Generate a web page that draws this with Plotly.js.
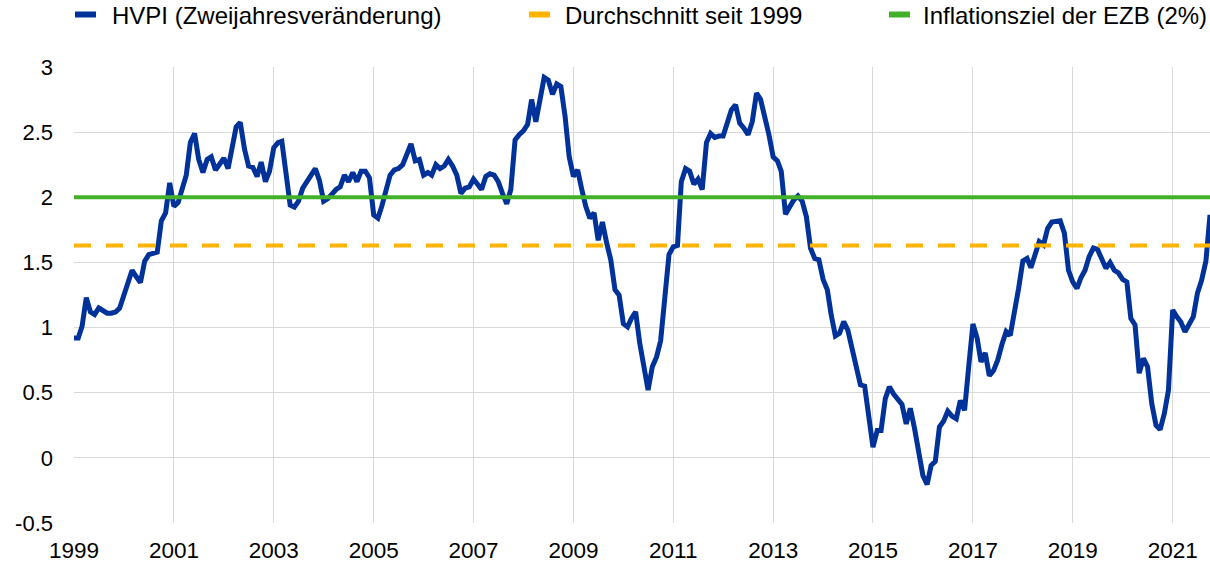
<!DOCTYPE html>
<html>
<head>
<meta charset="utf-8">
<script src="https://cdn.plot.ly/plotly-3.0.1.min.js"></script>
<style>
  html, body { margin: 0; padding: 0; background: #ffffff; }
  #chart { width: 1210px; height: 565px; }
</style>
</head>
<body>
<div id="chart"></div>
<script>
// ---- Data (monthly, starting January 1999) ----
const startYear = 1999;
const hvpiTwoYearChange = [
  // 1999
  0.92, 0.92, 1.01, 1.23, 1.12, 1.10, 1.15, 1.13, 1.11, 1.11, 1.12, 1.15,
  // 2000
  1.25, 1.32, 1.44, 1.39, 1.345, 1.51, 1.56, 1.57, 1.58, 1.82, 1.88, 2.11,
  // 2001
  1.93, 1.96, 2.06, 2.17, 2.42, 2.49, 2.29, 2.19, 2.29, 2.31, 2.21, 2.26,
  // 2002
  2.30, 2.22, 2.38, 2.54, 2.575, 2.37, 2.24, 2.23, 2.16, 2.27, 2.12, 2.20,
  // 2003
  2.38, 2.42, 2.43, 2.21, 1.94, 1.925, 1.97, 2.07, 2.12, 2.16, 2.22, 2.13,
  // 2004
  1.97, 1.99, 2.03, 2.06, 2.08, 2.17, 2.12, 2.19, 2.12, 2.20, 2.20, 2.15,
  // 2005
  1.865, 1.84, 1.93, 2.06, 2.17, 2.21, 2.22, 2.25, 2.33, 2.41, 2.28, 2.29,
  // 2006
  2.17, 2.19, 2.17, 2.25, 2.22, 2.24, 2.29, 2.24, 2.17, 2.03, 2.07, 2.08,
  // 2007
  2.14, 2.10, 2.06, 2.16, 2.18, 2.17, 2.12, 2.03, 1.95, 2.06, 2.44, 2.48,
  // 2008
  2.51, 2.56, 2.75, 2.58, 2.775, 2.92, 2.90, 2.79, 2.87, 2.85, 2.62, 2.31,
  // 2009
  2.16, 2.21, 2.07, 1.93, 1.84, 1.88, 1.67, 1.81, 1.65, 1.52, 1.29, 1.25,
  // 2010
  1.03, 1.006, 1.07, 1.12, 0.88, 0.70, 0.52, 0.70, 0.775, 0.90, 1.20, 1.56,
  // 2011
  1.62, 1.63, 2.12, 2.22, 2.20, 2.10, 2.14, 2.06, 2.42, 2.49, 2.46, 2.47,
  // 2012
  2.47, 2.58, 2.67, 2.71, 2.57, 2.53, 2.48, 2.58, 2.80, 2.75, 2.62, 2.48,
  // 2013
  2.31, 2.28, 2.20, 1.87, 1.925, 1.98, 2.01, 1.97, 1.85, 1.61, 1.53, 1.52,
  // 2014
  1.37, 1.29, 1.10, 0.935, 0.955, 1.045, 0.98, 0.84, 0.70, 0.56, 0.55, 0.31,
  // 2015
  0.083, 0.21, 0.21, 0.455, 0.545, 0.49, 0.455, 0.41, 0.26, 0.38, 0.225, 0.058,
  // 2016
  -0.135, -0.204, -0.058, -0.027, 0.237, 0.283, 0.358, 0.32, 0.30, 0.44, 0.365, 0.70,
  // 2017
  1.027, 0.917, 0.737, 0.806, 0.63, 0.67, 0.75, 0.87, 0.97, 0.94, 1.10, 1.30,
  // 2018
  1.51, 1.53, 1.46, 1.56, 1.66, 1.635, 1.76, 1.81, 1.82, 1.82, 1.725, 1.44,
  // 2019
  1.35, 1.30, 1.38, 1.44, 1.545, 1.61, 1.60, 1.53, 1.455, 1.50, 1.44, 1.42,
  // 2020
  1.37, 1.35, 1.07, 1.02, 0.65, 0.763, 0.70, 0.417, 0.25, 0.217, 0.34, 0.52,
  // 2021
  1.135, 1.083, 1.045, 0.968, 1.02, 1.083, 1.263, 1.365, 1.51, 1.865
];
const averageSince1999 = 1.63;
const ecbTarget = 2.0;
const yTickVals = [-0.5, 0, 0.5, 1, 1.5, 2, 2.5, 3];
const yTickText = ['-0.5', '0', '0.5', '1', '1.5', '2', '2.5', '3'];
const seriesNames = ['HVPI (Zweijahresveränderung)', 'Durchschnitt seit 1999', 'Inflationsziel der EZB (2%)'];
const seriesColors = ['#003299', '#FFB400', '#43B02A'];

// ---- Build dates ----
const dates = hvpiTwoYearChange.map((_, i) => {
  const y = startYear + Math.floor(i / 12);
  const m = (i % 12) + 1;
  return y + '-' + String(m).padStart(2, '0') + '-01';
});
const firstDate = dates[0];
const lastDate = dates[dates.length - 1];

const FONT = 'Liberation Sans, Arial, Helvetica, sans-serif';

const traces = [
  {
    x: dates, y: hvpiTwoYearChange, type: 'scatter', mode: 'lines',
    name: seriesNames[0], line: { color: seriesColors[0], width: 5 },
    showlegend: false, hoverinfo: 'x+y'
  },
  {
    x: [firstDate, lastDate], y: [averageSince1999, averageSince1999], type: 'scatter', mode: 'lines',
    name: seriesNames[1], line: { color: seriesColors[1], width: 4, dash: '17px,15px' },
    showlegend: false
  },
  {
    x: [firstDate, lastDate], y: [ecbTarget, ecbTarget], type: 'scatter', mode: 'lines',
    name: seriesNames[2], line: { color: seriesColors[2], width: 4 },
    showlegend: false
  }
];

// ---- Manual legend (swatches + text) ----
const plotLeft = 74, plotWidth = 1136, plotTop = 67, plotHeight = 456;
const px2x = p => (p - plotLeft) / plotWidth;
const py2y = p => (plotTop + plotHeight - p) / plotHeight;
const swatchX = [75, 529, 889];
const textX = [110, 563, 921];
const shapes = [];
const annotations = [];
for (let i = 0; i < 3; i++) {
  shapes.push({
    type: 'rect', xref: 'paper', yref: 'paper',
    x0: px2x(swatchX[i]), x1: px2x(swatchX[i] + 21),
    y0: py2y(17.5), y1: py2y(11.5),
    fillcolor: seriesColors[i], line: { width: 0 }
  });
  annotations.push({
    xref: 'paper', yref: 'paper', x: px2x(textX[i]), y: py2y(16),
    xanchor: 'left', yanchor: 'middle', showarrow: false,
    text: seriesNames[i], font: { family: FONT, size: 24, color: '#000000' }
  });
}

const layout = {
  width: 1210, height: 565,
  margin: { l: plotLeft, r: 0, t: plotTop, b: 565 - plotTop - plotHeight, pad: 0 },
  paper_bgcolor: '#ffffff', plot_bgcolor: '#ffffff',
  showlegend: false,
  font: { family: FONT, size: 22, color: '#000000' },
  xaxis: {
    type: 'date', range: [firstDate, lastDate],
    tick0: '1999-01-01', dtick: 'M24', tickformat: '%Y',
    showgrid: true, gridcolor: '#d9d9d9', gridwidth: 1,
    zeroline: false, showline: false, ticks: '',
    tickfont: { family: FONT, size: 22.5, color: '#000000' },
    ticklabelstandoff: 11, fixedrange: true
  },
  yaxis: {
    range: [-0.5, 3], tickvals: yTickVals, ticktext: yTickText,
    showgrid: true, gridcolor: '#d9d9d9', gridwidth: 1,
    zeroline: false, showline: false, ticks: '',
    tickfont: { family: FONT, size: 22, color: '#000000' },
    ticklabelstandoff: 20, fixedrange: true
  },
  shapes: shapes,
  annotations: annotations
};

Plotly.newPlot('chart', traces, layout, { displayModeBar: false, staticPlot: true });
</script>
</body>
</html>
